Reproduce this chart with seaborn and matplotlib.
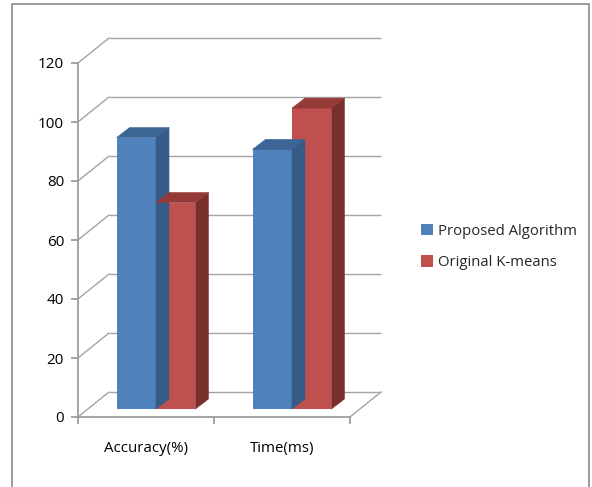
import matplotlib
matplotlib.use("Agg")
import matplotlib.pyplot as plt
from matplotlib.patches import Polygon, Rectangle
from matplotlib.lines import Line2D
from matplotlib.transforms import offset_copy, IdentityTransform
import seaborn as sns
import pandas as pd

# Data
metrics = ["Accuracy(%)", "Time(ms)"]
methods = ["Proposed Algorithm", "Original K-means"]
proposed = [92, 88]
kmeans = [70, 102]
y_ticks = [0, 20, 40, 60, 80, 100, 120]

df = pd.DataFrame({
    "metric": metrics * 2,
    "method": [methods[0]] * 2 + [methods[1]] * 2,
    "value": proposed + kmeans,
})

front_colors = ["#4F81BD", "#C0504D"]
side_colors = ["#365B88", "#7A2E2C"]
top_colors = ["#3C6595", "#963A38"]
grid_color = "#A3A3A3"
axis_color = "#8C8C8C"

sns.set_theme(style="white")
plt.rcParams["font.family"] = ["Open Sans", "DejaVu Sans"]

W, H, DPI = 592, 487, 100
fig = plt.figure(figsize=(W / DPI, H / DPI), dpi=DPI)

# front plane of the plot box, in pixels
left_px, right_px, bottom_px, top_px = 78, 350, 417, 63
ax = fig.add_axes([left_px / W, (H - bottom_px) / H,
                   (right_px - left_px) / W, (bottom_px - top_px) / H])

sns.barplot(data=df, x="metric", y="value", hue="method",
            palette=front_colors, width=0.58, saturation=1,
            linewidth=0, ax=ax, legend=False, zorder=3)

ax.set_xlim(-0.5, 1.5)
ax.set_ylim(0, 120)

# 3D depth offsets in pixels
WALL_DX, WALL_DY = 31, 25     # back wall relative to front plane
BAR_DX, BAR_DY = 10, 8        # front face of columns relative to front plane
DEPTH_DX, DEPTH_DY = 13, 10   # column depth

bar_trans = offset_copy(ax.transData, fig=fig, x=BAR_DX, y=BAR_DY, units="dots")
n_cat = len(metrics)
for i, p in enumerate(ax.patches):
    series = i // n_cat
    p.set_transform(bar_trans)
    p.set_zorder(3)
    x0, w, h = p.get_x(), p.get_width(), p.get_height()
    (ax0, ay0) = bar_trans.transform((x0, 0))
    (ax1, ay1) = bar_trans.transform((x0 + w, h))
    side = Polygon([(ax1, ay0), (ax1 + DEPTH_DX, ay0 + DEPTH_DY),
                    (ax1 + DEPTH_DX, ay1 + DEPTH_DY), (ax1, ay1)],
                   closed=True, facecolor=side_colors[series],
                   edgecolor=side_colors[series], lw=0.4,
                   transform=IdentityTransform(), zorder=2.5, clip_on=False)
    top = Polygon([(ax0, ay1), (ax1, ay1), (ax1 + DEPTH_DX, ay1 + DEPTH_DY),
                   (ax0 + DEPTH_DX, ay1 + DEPTH_DY)],
                  closed=True, facecolor=top_colors[series],
                  edgecolor=top_colors[series], lw=0.4,
                  transform=IdentityTransform(), zorder=2.6, clip_on=False)
    fig.add_artist(side)
    fig.add_artist(top)

# back wall gridlines
wall_trans = offset_copy(ax.transData, fig=fig, x=WALL_DX, y=WALL_DY, units="dots")
ax.hlines(y_ticks, -0.5, 1.5, transform=wall_trans, color=grid_color,
          lw=1.0, clip_on=False, zorder=1)

# side wall diagonals and floor edge
def diag(x, y):
    px, py = ax.transData.transform((x, y))
    fig.add_artist(Line2D([px, px + WALL_DX], [py, py + WALL_DY],
                          transform=IdentityTransform(), color=grid_color,
                          lw=1.0, zorder=1))

for t in y_ticks:
    diag(-0.5, t)
diag(1.5, 0)

# axes styling
for s in ["top", "right"]:
    ax.spines[s].set_visible(False)
for s in ["left", "bottom"]:
    ax.spines[s].set_color(axis_color)
    ax.spines[s].set_linewidth(1.1)
ax.patch.set_alpha(0)

ax.set_yticks(y_ticks)
ax.tick_params(axis="y", length=5, width=1.1, color=axis_color, pad=5,
               labelsize=11, labelcolor="#000000", left=True)
ax.set_xticks(range(len(metrics)))
ax.set_xticklabels(metrics)
ax.set_xticks([-0.5, 0.5, 1.5], minor=True)
ax.tick_params(axis="x", which="major", length=0, pad=17, labelsize=10.8,
               labelcolor="#000000")
ax.tick_params(axis="x", which="minor", length=5, width=1.1, color=axis_color,
               bottom=True)
ax.set_xlabel("")
ax.set_ylabel("")

# legend
handles = [Rectangle((0, 0), 1, 1, facecolor=c, edgecolor="none") for c in front_colors]
fig.legend(handles, methods, loc="center left",
           bbox_to_anchor=(414 / W, 1 - 247 / H), frameon=False,
           fontsize=10.7, handlelength=0.8, handleheight=0.8,
           handletextpad=0.3, labelspacing=1.12, borderpad=0)

# outer frame
fig.add_artist(Rectangle((12 / W, -0.01), (589 - 12) / W, 1 - 4 / H + 0.01,
                         transform=fig.transFigure, fill=False,
                         edgecolor="#8C8C8C", lw=1.2))

fig.savefig("out.png", dpi=DPI)
